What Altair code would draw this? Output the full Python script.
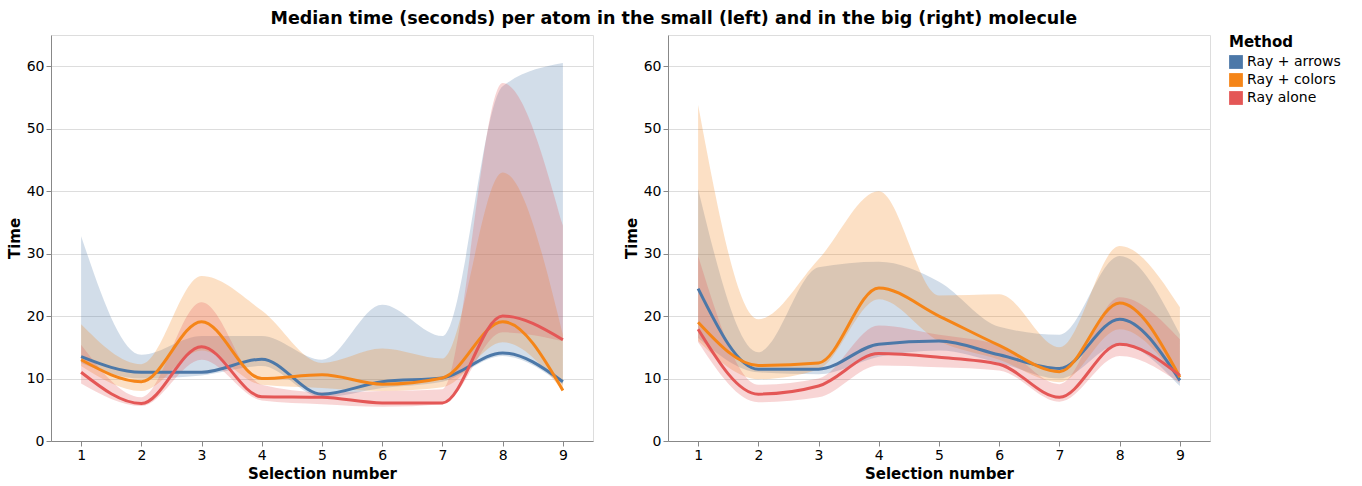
import altair as alt
import pandas as pd

selections = [1, 2, 3, 4, 5, 6, 7, 8, 9]
methods = ["Ray + arrows", "Ray + colors", "Ray alone"]
colors = ["#4c78a8", "#f58518", "#e45756"]
y_ticks = [0, 10, 20, 30, 40, 50, 60]

# Small molecule (left panel)
small_arrows_med = [13.5, 11.0, 11.0, 13.1, 7.5, 9.5, 10.1, 14.1, 9.5]
small_arrows_lo = [12.5, 10.0, 10.5, 12.0, 7.0, 8.5, 9.5, 13.6, 9.0]
small_arrows_hi = [32.8, 13.8, 16.8, 16.8, 13.0, 21.8, 16.8, 56.8, 60.5]
small_colors_med = [13.0, 9.5, 19.1, 10.0, 10.6, 9.1, 10.1, 19.1, 8.1]
small_colors_lo = [12.0, 8.0, 14.5, 9.0, 8.5, 8.0, 8.6, 15.8, 8.0]
small_colors_hi = [18.7, 12.3, 26.4, 20.9, 12.5, 14.8, 13.2, 43.0, 17.0]
small_alone_med = [11.0, 6.0, 15.1, 7.1, 7.0, 6.1, 6.1, 20.0, 16.2]
small_alone_lo = [9.2, 5.6, 13.0, 6.5, 5.9, 5.5, 5.9, 17.4, 16.0]
small_alone_hi = [15.4, 7.0, 22.2, 9.0, 7.8, 8.0, 8.3, 57.3, 34.5]

# Big molecule (right panel)
big_arrows_med = [24.4, 11.5, 11.5, 15.5, 16.0, 13.8, 11.6, 19.5, 9.7]
big_arrows_lo = [16.5, 11.0, 10.7, 13.5, 14.5, 12.5, 10.0, 15.5, 8.8]
big_arrows_hi = [40.3, 14.2, 27.8, 28.7, 25.5, 18.3, 17.0, 29.6, 17.1]
big_colors_med = [19.0, 12.1, 12.5, 24.5, 20.0, 15.3, 11.1, 22.1, 10.2]
big_colors_lo = [16.0, 9.9, 11.5, 22.7, 16.0, 13.0, 9.4, 17.9, 9.5]
big_colors_hi = [53.8, 19.5, 29.1, 40.0, 23.3, 23.5, 15.0, 31.2, 21.4]
big_alone_med = [17.9, 7.5, 8.8, 14.0, 13.4, 12.3, 7.0, 15.5, 10.5]
big_alone_lo = [15.8, 6.2, 7.0, 12.1, 11.8, 11.3, 6.3, 13.6, 9.3]
big_alone_hi = [29.6, 9.0, 10.0, 18.5, 17.0, 15.3, 9.1, 23.0, 16.3]

series = {
    "small": [
        (methods[0], small_arrows_med, small_arrows_lo, small_arrows_hi),
        (methods[1], small_colors_med, small_colors_lo, small_colors_hi),
        (methods[2], small_alone_med, small_alone_lo, small_alone_hi),
    ],
    "big": [
        (methods[0], big_arrows_med, big_arrows_lo, big_arrows_hi),
        (methods[1], big_colors_med, big_colors_lo, big_colors_hi),
        (methods[2], big_alone_med, big_alone_lo, big_alone_hi),
    ],
}

rows = []
for panel, lst in series.items():
    for m, med, lo, hi in lst:
        for s, a, b, c in zip(selections, med, lo, hi):
            rows.append({"panel": panel, "Selection": s, "Method": m,
                         "median": a, "lo": b, "hi": c})
df = pd.DataFrame(rows)

color = alt.Color(
    "Method:N",
    scale=alt.Scale(domain=methods, range=colors),
    legend=alt.Legend(title="Method", symbolType="square", symbolSize=190,
                      symbolOpacity=1, symbolStrokeWidth=0, rowPadding=4),
)
x = alt.X("Selection:O", title="Selection number",
          axis=alt.Axis(labelAngle=0))
yscale = alt.Scale(domain=[0, 65], nice=False)
yaxis = alt.Axis(values=y_ticks)


def panel(name):
    base = alt.Chart(df[df.panel == name])
    area = base.mark_area(interpolate="monotone", opacity=0.25).encode(
        x=x,
        y=alt.Y("lo:Q", scale=yscale, title="Time", axis=yaxis),
        y2="hi:Q",
        color=color,
    )
    line = base.mark_line(interpolate="monotone", strokeWidth=3).encode(
        x=x,
        y=alt.Y("median:Q", scale=yscale, title="Time", axis=yaxis),
        color=color,
    )
    return alt.layer(area, line).properties(width=542, height=406)


chart = alt.hconcat(panel("small"), panel("big"), spacing=29).properties(
    title=alt.Title(
        "Median time (seconds) per atom in the small (left) and in the big (right) molecule",
        anchor="middle", fontSize=17.5, offset=7,
    ),
    padding={"left": 6, "top": 10, "right": 5, "bottom": 5},
).configure(font="DejaVu Sans").configure_axis(
    labelFontSize=14, titleFontSize=15, labelFont="DejaVu Sans", titleFont="DejaVu Sans"
).configure_legend(
    labelFontSize=14, titleFontSize=15
).configure_title(font="DejaVu Sans")

chart.save("out.html", embed_options={"renderer": "svg", "actions": False})
